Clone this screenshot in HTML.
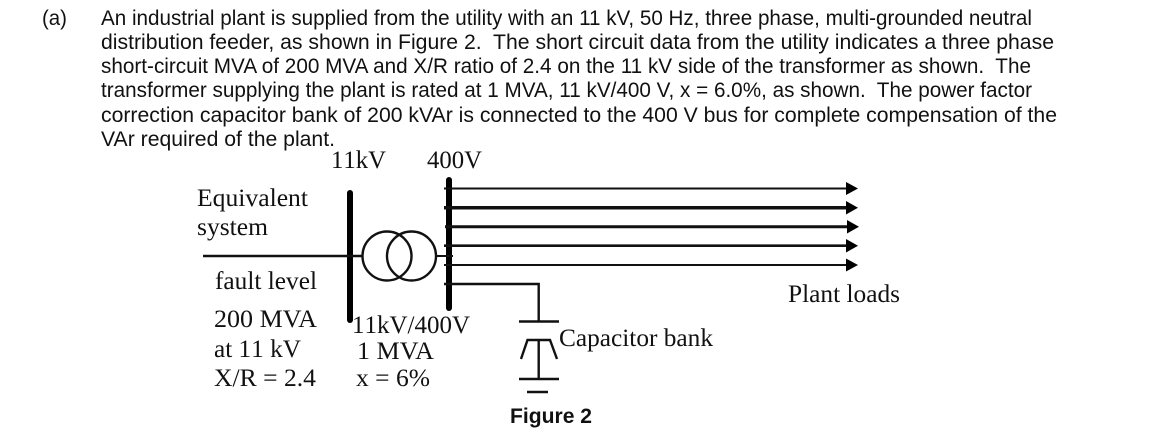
<!DOCTYPE html>
<html>
<head>
<meta charset="utf-8">
<style>
html,body{margin:0;padding:0;background:#fff;width:1158px;height:442px;overflow:hidden}
svg{display:block}
text{white-space:pre}
.a{font-family:"Liberation Sans",Arial,sans-serif;font-size:21px;fill:#111}
.s{font-family:"Liberation Serif","Times New Roman",serif;font-size:25px;fill:#111}
.n{font-kerning:none}
</style>
</head>
<body>
<svg width="1158" height="442" viewBox="0 0 1158 442" xmlns="http://www.w3.org/2000/svg">
<rect width="1158" height="442" fill="#fff"/>
<text class="a" x="42" y="25" textLength="25" lengthAdjust="spacingAndGlyphs">(a)</text>
<text class="a" x="101" y="25" textLength="931" lengthAdjust="spacingAndGlyphs">An industrial plant is supplied from the utility with an 11 kV, 50 Hz, three phase, multi-grounded neutral</text>
<text class="a" x="101" y="49" textLength="953" lengthAdjust="spacingAndGlyphs">distribution feeder, as shown in Figure 2.  The short circuit data from the utility indicates a three phase</text>
<text class="a" x="101" y="73" textLength="930" lengthAdjust="spacingAndGlyphs">short-circuit MVA of 200 MVA and X/R ratio of 2.4 on the 11 kV side of the transformer as shown.  The</text>
<text class="a" x="101" y="97" textLength="931" lengthAdjust="spacingAndGlyphs">transformer supplying the plant is rated at 1 MVA, 11 kV/400 V, x = 6.0%, as shown.  The power factor</text>
<text class="a" x="101" y="122" textLength="956" lengthAdjust="spacingAndGlyphs">correction capacitor bank of 200 kVAr is connected to the 400 V bus for complete compensation of the</text>
<text class="a" x="101" y="146" textLength="234" lengthAdjust="spacingAndGlyphs">VAr required of the plant.</text>

<text class="s n" x="331" y="168" textLength="55" lengthAdjust="spacingAndGlyphs">11kV</text>
<text class="s" x="427" y="168" textLength="55" lengthAdjust="spacingAndGlyphs">400V</text>
<text class="s" x="197" y="206" textLength="111" lengthAdjust="spacingAndGlyphs">Equivalent</text>
<text class="s" x="197" y="235" textLength="71" lengthAdjust="spacingAndGlyphs">system</text>
<text class="s" x="215" y="289" textLength="102" lengthAdjust="spacingAndGlyphs">fault level</text>
<text class="s" x="214" y="327" textLength="103" lengthAdjust="spacingAndGlyphs">200 MVA</text>
<text class="s n" x="214" y="357" textLength="87" lengthAdjust="spacingAndGlyphs">at 11 kV</text>
<text class="s" x="214" y="386" textLength="102" lengthAdjust="spacingAndGlyphs">X/R = 2.4</text>
<text class="s n" x="352" y="333" textLength="118" lengthAdjust="spacingAndGlyphs">11kV/400V</text>
<text class="s" x="357" y="359" textLength="77" lengthAdjust="spacingAndGlyphs">1 MVA</text>
<text class="s" x="356" y="386" textLength="74" lengthAdjust="spacingAndGlyphs">x = 6%</text>
<text class="s" x="559" y="346" textLength="154" lengthAdjust="spacingAndGlyphs">Capacitor bank</text>
<text class="s" x="788" y="302" textLength="112" lengthAdjust="spacingAndGlyphs">Plant loads</text>
<text x="510" y="423" font-family="Liberation Sans,Arial,sans-serif" font-weight="bold" font-size="21px" fill="#111" textLength="82" lengthAdjust="spacingAndGlyphs">Figure 2</text>

<g stroke="#000" fill="none" stroke-linecap="round">
<line x1="350" y1="193" x2="350" y2="320" stroke-width="6"/>
<line x1="449" y1="180" x2="449" y2="308" stroke-width="6"/>
</g>
<g stroke="#111" fill="none">
<line x1="203" y1="256" x2="362" y2="256" stroke-width="2.500"/>
<circle cx="387" cy="256" r="24.500" stroke-width="2.400"/>
<circle cx="411.500" cy="256" r="24.500" stroke-width="2.400"/>
<line x1="436" y1="256" x2="453" y2="256" stroke-width="2"/>
<line x1="444" y1="188.500" x2="848" y2="188.500" stroke-width="2"/>
<line x1="444" y1="207.700" x2="848" y2="207.700" stroke-width="3.500"/>
<line x1="445" y1="226.700" x2="848" y2="226.700" stroke-width="3"/>
<line x1="444" y1="245.700" x2="848" y2="245.700" stroke-width="2.600"/>
<line x1="444" y1="265" x2="848" y2="265" stroke-width="2"/>
<polyline points="444,284 538.700,284 538.700,321" stroke-width="2.400"/>
<line x1="519" y1="321.500" x2="559" y2="321.500" stroke-width="2.400"/>
<polyline points="521,359 527.500,340 550,340 557,359" stroke-width="2.400"/>
<line x1="538.700" y1="340" x2="538.700" y2="379" stroke-width="2.400"/>
<line x1="519" y1="379" x2="559" y2="379" stroke-width="2.400"/>
<line x1="527" y1="392" x2="548" y2="392" stroke-width="2.400"/>
</g>
<g fill="#000">
<polygon points="846,182 858,188.500 846,195"/>
<polygon points="846,201 858,207.700 846,214.500"/>
<polygon points="847,220 859,226.700 847,233.500"/>
<polygon points="846,239 858,245.700 846,252.500"/>
<polygon points="846,258.500 858,265 846,271.500"/>
</g>
</svg>
</body>
</html>
